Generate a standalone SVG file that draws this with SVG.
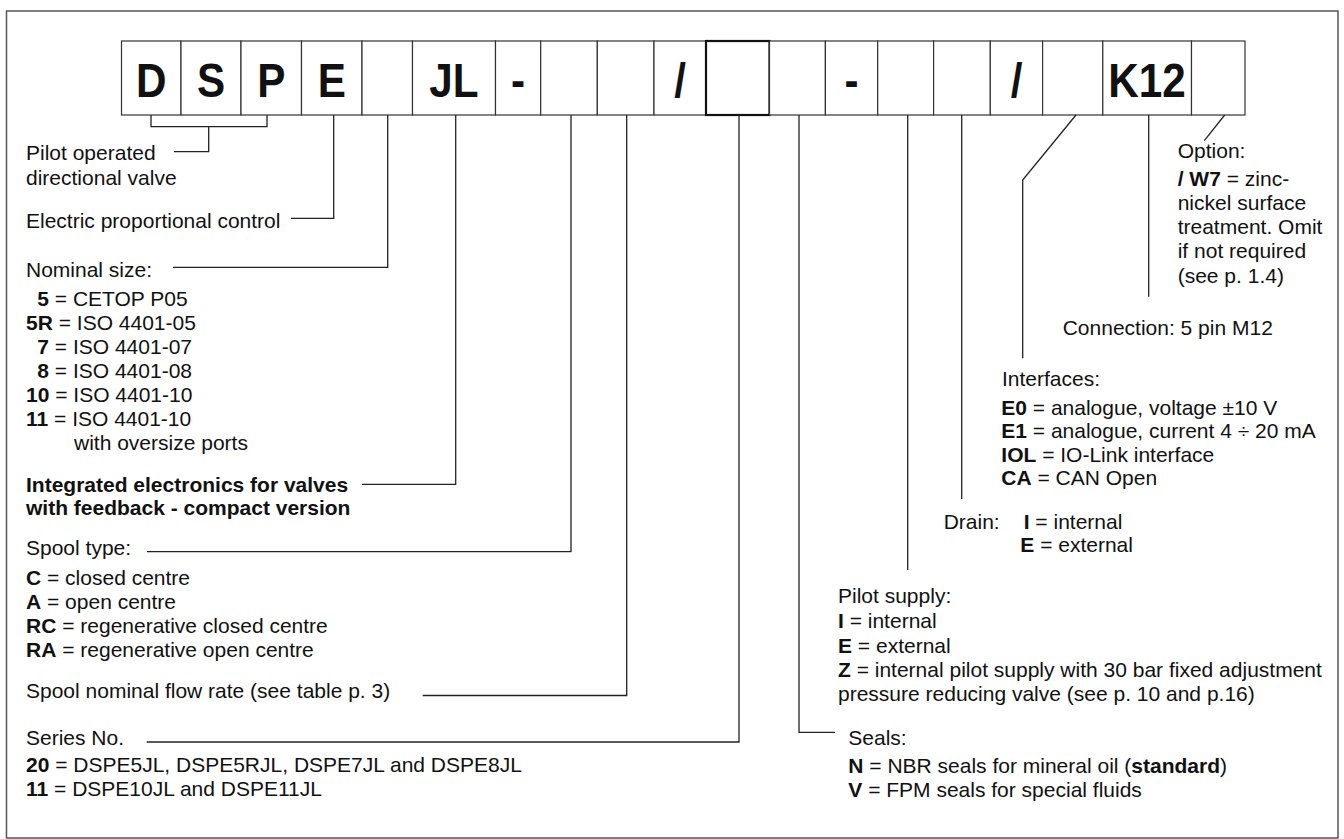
<svg xmlns="http://www.w3.org/2000/svg" width="1344" height="839" viewBox="0 0 1344 839">
<style>
  .frame{fill:#fff;stroke:#555;stroke-width:1.5}
  .box{fill:#fff;stroke:#333;stroke-width:1.2}
  .boxb{fill:#fff;stroke:#111;stroke-width:2.2}
  .big{font-family:"Liberation Sans",Arial,sans-serif;font-weight:bold;font-size:48px;fill:#111;text-anchor:middle}
  .t{font-family:"Liberation Sans",Arial,sans-serif;font-size:21px;fill:#111}
  .b{font-weight:bold}
  .ln{fill:none;stroke:#222;stroke-width:1.3}
</style>
<rect class="frame" x="6.5" y="11" width="1331.5" height="827"/>

<g id="code">
  <g id="box-D"><rect class="box" x="121.5" y="41" width="59.5" height="74"/><text class="big" transform="translate(151.25,97) scale(0.88,1)">D</text></g>
  <g id="box-S"><rect class="box" x="181" y="41" width="60" height="74"/><text class="big" transform="translate(211,97) scale(0.88,1)">S</text></g>
  <g id="box-P"><rect class="box" x="241" y="41" width="60.5" height="74"/><text class="big" transform="translate(271.25,97) scale(0.88,1)">P</text></g>
  <g id="box-E"><rect class="box" x="301.5" y="41" width="60.5" height="74"/><text class="big" transform="translate(331.75,97) scale(0.88,1)">E</text></g>
  <g id="box-size"><rect class="box" x="362" y="41" width="50.5" height="74"/></g>
  <g id="box-JL"><rect class="box" x="412.5" y="41" width="83" height="74"/><text class="big" transform="translate(454,97) scale(0.88,1)">JL</text></g>
  <g id="box-dash1"><rect class="box" x="495.5" y="41" width="45.2" height="74"/><text class="big" transform="translate(518.1,97) scale(0.88,1)">-</text></g>
  <g id="box-spool"><rect class="box" x="540.7" y="41" width="56.6" height="74"/></g>
  <g id="box-flow"><rect class="box" x="597.3" y="41" width="56.7" height="74"/></g>
  <g id="box-slash1"><rect class="box" x="654" y="41" width="52" height="74"/><text class="big" transform="translate(680,97) scale(0.88,1)">/</text></g>
  <g id="box-series"><rect class="boxb" x="706" y="41" width="63.5" height="74"/></g>
  <g id="box-seals"><rect class="box" x="769.5" y="41" width="55.9" height="74"/></g>
  <g id="box-dash2"><rect class="box" x="825.4" y="41" width="52.3" height="74"/><text class="big" transform="translate(851.5,97) scale(0.88,1)">-</text></g>
  <g id="box-pilot"><rect class="box" x="877.7" y="41" width="55.9" height="74"/></g>
  <g id="box-drain"><rect class="box" x="933.6" y="41" width="56.7" height="74"/></g>
  <g id="box-slash2"><rect class="box" x="990.3" y="41" width="52.3" height="74"/><text class="big" transform="translate(1016.5,97) scale(0.88,1)">/</text></g>
  <g id="box-interface"><rect class="box" x="1042.6" y="41" width="60.2" height="74"/></g>
  <g id="box-K12"><rect class="box" x="1102.8" y="41" width="88.7" height="74"/><text class="big" transform="translate(1147,97) scale(0.88,1)">K12</text></g>
  <g id="box-option"><rect class="box" x="1191.5" y="41" width="53.5" height="74"/></g>
</g>

<g id="connectors">
  <path class="ln" d="M151,115 V126.7 H267 V115 M208.7,126.7 V151.7 H174"/>
  <path class="ln" d="M333.7,115 V218.3 H291"/>
  <path class="ln" d="M387.7,115 V267.3 H173"/>
  <path class="ln" d="M455.7,115 V484.3 H362"/>
  <path class="ln" d="M571,115 V551.7 H147"/>
  <path class="ln" d="M626.7,115 V695.5 H422.7"/>
  <path class="ln" d="M739,115 V742 H146.7"/>
  <path class="ln" d="M799,115 V732.3 H835"/>
  <path class="ln" d="M907.7,115 V570"/>
  <path class="ln" d="M961.7,115 V499"/>
  <path class="ln" d="M1076,115 L1022.7,180 V358.3"/>
  <path class="ln" d="M1148.7,115 V296.7"/>
  <path class="ln" d="M1224.7,115 L1204.3,140.7"/>
</g>

<g id="label-pilot-operated">
  <text class="t" x="26" y="160">Pilot operated</text>
  <text class="t" x="26" y="185">directional valve</text>
</g>
<g id="label-electric">
  <text class="t" x="26" y="228.3">Electric proportional control</text>
</g>
<g id="label-nominal-size">
  <text class="t" x="26" y="276.7">Nominal size:</text>
  <text class="t" x="37.3" y="306"><tspan class="b">5</tspan> = CETOP P05</text>
  <text class="t" x="26" y="330"><tspan class="b">5R</tspan> = ISO 4401-05</text>
  <text class="t" x="37.3" y="354"><tspan class="b">7</tspan> = ISO 4401-07</text>
  <text class="t" x="37.3" y="377.7"><tspan class="b">8</tspan> = ISO 4401-08</text>
  <text class="t" x="26" y="401.7"><tspan class="b">10</tspan> = ISO 4401-10</text>
  <text class="t" x="26" y="425.7"><tspan class="b">11</tspan> = ISO 4401-10</text>
  <text class="t" x="74" y="450">with oversize ports</text>
</g>
<g id="label-electronics">
  <text class="t b" x="26" y="491.7">Integrated electronics for valves</text>
  <text class="t b" x="26" y="515">with feedback - compact version</text>
</g>
<g id="label-spool-type">
  <text class="t" x="26" y="555">Spool type:</text>
  <text class="t" x="26" y="585"><tspan class="b">C</tspan> = closed centre</text>
  <text class="t" x="26" y="609.3"><tspan class="b">A</tspan> = open centre</text>
  <text class="t" x="26" y="632.7"><tspan class="b">RC</tspan> = regenerative closed centre</text>
  <text class="t" x="26" y="656.7"><tspan class="b">RA</tspan> = regenerative open centre</text>
</g>
<g id="label-flow">
  <text class="t" x="26" y="697.7">Spool nominal flow rate (see table p. 3)</text>
</g>
<g id="label-series">
  <text class="t" x="26" y="745">Series No.</text>
  <text class="t" x="26" y="772.3"><tspan class="b">20</tspan> = DSPE5JL, DSPE5RJL, DSPE7JL and DSPE8JL</text>
  <text class="t" x="26" y="796"><tspan class="b">11</tspan> = DSPE10JL and DSPE11JL</text>
</g>
<g id="label-seals">
  <text class="t" x="848.3" y="745">Seals:</text>
  <text class="t" x="848.3" y="773"><tspan class="b">N</tspan> = NBR seals for mineral oil (<tspan class="b">standard</tspan>)</text>
  <text class="t" x="848.3" y="796.7"><tspan class="b">V</tspan> = FPM seals for special fluids</text>
</g>
<g id="label-pilot-supply">
  <text class="t" x="838" y="603">Pilot supply:</text>
  <text class="t" x="838" y="628"><tspan class="b">I</tspan> = internal</text>
  <text class="t" x="838" y="652.5"><tspan class="b">E</tspan> = external</text>
  <text class="t" x="838" y="677"><tspan class="b">Z</tspan> = internal pilot supply with 30 bar fixed adjustment</text>
  <text class="t" x="838" y="701">pressure reducing valve (see p. 10 and p.16)</text>
</g>
<g id="label-drain">
  <text class="t" x="943.7" y="529">Drain:</text>
  <text class="t" x="1023.7" y="529"><tspan class="b">I</tspan> = internal</text>
  <text class="t" x="1020.3" y="552.3"><tspan class="b">E</tspan> = external</text>
</g>
<g id="label-interfaces">
  <text class="t" x="1002" y="386">Interfaces:</text>
  <text class="t" x="1001.3" y="414.5"><tspan class="b">E0</tspan> = analogue, voltage ±10 V</text>
  <text class="t" x="1001.3" y="438.3"><tspan class="b">E1</tspan> = analogue, current 4 ÷ 20 mA</text>
  <text class="t" x="1001.3" y="461.7"><tspan class="b">IOL</tspan> = IO-Link interface</text>
  <text class="t" x="1001.3" y="485"><tspan class="b">CA</tspan> = CAN Open</text>
</g>
<g id="label-connection">
  <text class="t" x="1062.7" y="335">Connection: 5 pin M12</text>
</g>
<g id="label-option">
  <text class="t" x="1177.7" y="158">Option:</text>
  <text class="t" x="1177.7" y="185.5"><tspan class="b">/ W7</tspan> = zinc-</text>
  <text class="t" x="1177.7" y="209.8">nickel surface</text>
  <text class="t" x="1177.7" y="234">treatment. Omit</text>
  <text class="t" x="1177.7" y="258.3">if not required</text>
  <text class="t" x="1177.7" y="282.7">(see p. 1.4)</text>
</g>
</svg>
